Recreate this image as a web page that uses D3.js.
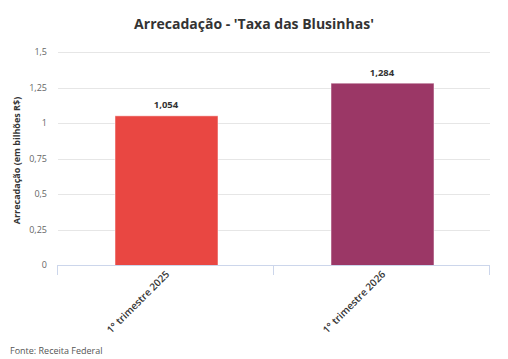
<!DOCTYPE html>
<html><head><meta charset="utf-8">
<script src="https://cdn.jsdelivr.net/npm/d3@7"></script>
<style>body{margin:0;background:#fff}svg{display:block;font-family:"Open Sans",sans-serif}</style>
</head><body><svg id="c" width="508" height="359"></svg>
<script>
const categories = ["1° trimestre 2025", "1° trimestre 2026"];
const values = [1.054, 1.284];
const colors = ["#e94742", "#9b3766"];
const yTicks = [0, 0.25, 0.5, 0.75, 1, 1.25, 1.5];

const svg = d3.select("#c");
const L = 58, R = 490, T = 52, B = 265;
const fmt = v => String(v).replace(".", ",");

const y = d3.scaleLinear().domain([0, 1.5]).range([B, T]);
const x = d3.scaleBand().domain(categories).range([L, R]).paddingInner(0).paddingOuter(0);
const bw = 103;

svg.append("text").attr("x", 254).attr("y", 29).attr("text-anchor", "middle")
  .attr("font-size", 14).attr("font-weight", "bold").attr("fill", "#333").text("Arrecadação - 'Taxa das Blusinhas'");

// grid
svg.append("g").selectAll("line").data(yTicks.filter(d => d > 0)).join("line")
  .attr("x1", L).attr("x2", R).attr("y1", d => Math.round(y(d)) + 0.5).attr("y2", d => Math.round(y(d)) + 0.5)
  .attr("stroke", "#e6e6e6").attr("stroke-width", 1);

svg.append("g").selectAll("text").data(yTicks).join("text")
  .attr("x", 47).attr("y", d => y(d) + 3).attr("text-anchor", "end")
  .attr("font-size", 9).attr("fill", "#666").text(fmt);

svg.append("text").attr("transform", "translate(20," + ((T + B) / 2 + 2) + ") rotate(-90)")
  .attr("text-anchor", "middle").attr("font-size", 9).attr("font-weight", "bold").attr("fill", "#333")
  .text("Arrecadação (em bilhões R$)");

// bars
svg.append("g").selectAll("rect").data(categories).join("rect")
  .attr("x", (d) => x(d) + x.bandwidth() / 2 - bw / 2 + 0.5)
  .attr("y", (d, i) => y(values[i]) + 0.5)
  .attr("width", bw).attr("height", (d, i) => B - y(values[i]))
  .attr("fill", (d, i) => colors[i]).attr("stroke", "rgba(255,255,255,0.5)").attr("stroke-width", 1);

svg.append("g").selectAll("text").data(categories).join("text")
  .attr("x", d => x(d) + x.bandwidth() / 2)
  .attr("y", (d, i) => y(values[i]) - 7)
  .attr("text-anchor", "middle").attr("font-size", 9.5).attr("font-weight", "bold").attr("fill", "#333")
  .attr("stroke", "#fff").attr("stroke-width", 2).attr("paint-order", "stroke")
  .text((d, i) => fmt(values[i]));

// x axis
svg.append("line").attr("x1", L).attr("x2", R).attr("y1", B + 0.5).attr("y2", B + 0.5).attr("stroke", "#ccd6eb");
const tickPos = [L, ...categories.map(d => x(d) + x.bandwidth())];
svg.append("g").selectAll("line").data(tickPos).join("line")
  .attr("x1", d => Math.round(d) - 0.5).attr("x2", d => Math.round(d) - 0.5).attr("y1", B).attr("y2", B + 10)
  .attr("stroke", "#ccd6eb");

svg.append("g").selectAll("text").data(categories).join("text")
  .attr("transform", d => "translate(" + (x(d) + x.bandwidth() / 2 + 4) + "," + (B + 10) + ") rotate(-45)")
  .attr("text-anchor", "end").attr("font-size", 10).attr("font-weight", 600).attr("fill", "#333").text(d => d);

svg.append("text").attr("x", 10).attr("y", 354).attr("font-size", 9).attr("fill", "#555").text("Fonte: Receita Federal");
</script></body></html>
